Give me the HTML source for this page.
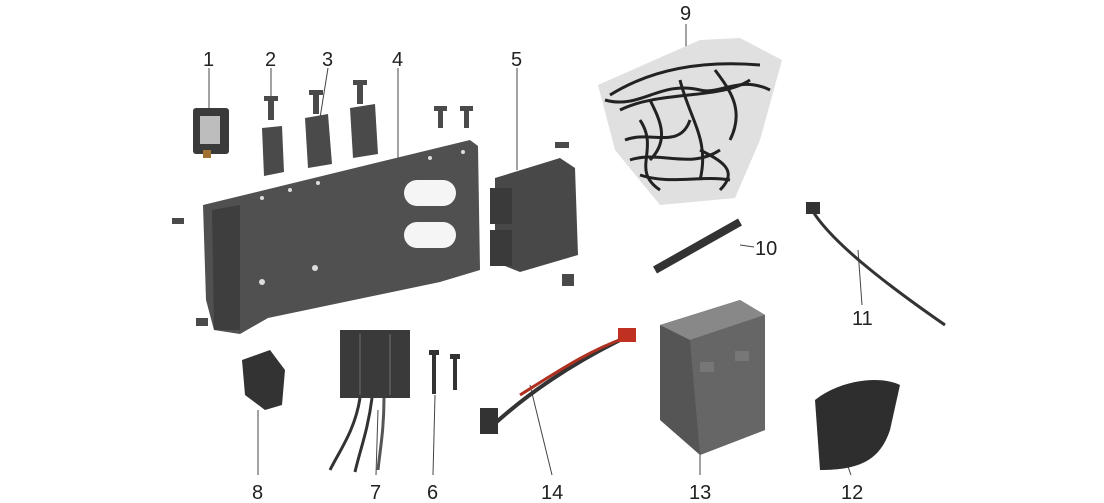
<!DOCTYPE html>
<html><head><meta charset="utf-8"><style>
html,body{margin:0;padding:0;background:#fff;}
svg{display:block;}
text{font-family:"Liberation Sans",sans-serif;font-size:20px;fill:#222;}
</style></head><body>
<svg width="1104" height="503" viewBox="0 0 1104 503" xmlns="http://www.w3.org/2000/svg">
<g stroke="#444" stroke-width="1" fill="none">
<line x1="209" y1="68" x2="209" y2="120"/>
<line x1="271" y1="68" x2="271" y2="98"/>
<line x1="328" y1="68" x2="320" y2="118"/>
<line x1="398" y1="68" x2="398" y2="160"/>
<line x1="517" y1="68" x2="517" y2="170"/>
<line x1="686" y1="24" x2="686" y2="95"/>
<line x1="740" y1="245" x2="754" y2="247"/>
<line x1="862" y1="305" x2="858" y2="250"/>
<line x1="851" y1="475" x2="842" y2="450"/>
<line x1="700" y1="475" x2="700" y2="440"/>
<line x1="552" y1="475" x2="530" y2="385"/>
<line x1="433" y1="475" x2="435" y2="395"/>
<line x1="376" y1="475" x2="378" y2="410"/>
<line x1="258" y1="475" x2="258" y2="410"/>
</g>
<!-- part 1 relay -->
<rect x="193" y="108" width="36" height="46" rx="3" fill="#3a3a3a"/>
<rect x="200" y="116" width="20" height="28" fill="#bdbdbd"/>
<rect x="203" y="150" width="8" height="8" fill="#a07030"/>
<!-- brackets -->
<g fill="#4a4a4a">
<rect x="268" y="98" width="6" height="22"/><rect x="264" y="96" width="14" height="5"/>
<path d="M262 128 L282 126 L284 172 L264 176 Z"/>
<rect x="313" y="92" width="6" height="22"/><rect x="309" y="90" width="14" height="5"/>
<path d="M305 118 L328 114 L332 164 L308 168 Z"/>
<rect x="357" y="82" width="6" height="22"/><rect x="353" y="80" width="14" height="5"/>
<path d="M350 108 L375 104 L378 154 L353 158 Z"/>
<rect x="438" y="108" width="5" height="20"/><rect x="434" y="106" width="13" height="5"/>
<rect x="464" y="108" width="5" height="20"/><rect x="460" y="106" width="13" height="5"/>
<rect x="172" y="218" width="12" height="6"/>
<rect x="196" y="318" width="12" height="8"/>
<rect x="555" y="142" width="14" height="6"/>
<rect x="562" y="274" width="12" height="12"/>
</g>
<!-- plate 4 -->
<path d="M203 205 L470 140 L478 146 L480 270 L440 282 L268 318 L240 334 L214 330 L206 300 Z" fill="#505050"/>
<path d="M212 210 L240 205 L240 330 L214 330 Z" fill="#3e3e3e"/>
<rect x="404" y="180" width="52" height="26" rx="13" fill="#f5f5f5"/>
<rect x="404" y="222" width="52" height="26" rx="13" fill="#f5f5f5"/>
<g fill="#ddd"><circle cx="262" cy="198" r="2"/><circle cx="290" cy="190" r="2"/><circle cx="318" cy="183" r="2"/><circle cx="430" cy="158" r="2"/><circle cx="463" cy="152" r="2"/><circle cx="262" cy="282" r="3"/><circle cx="315" cy="268" r="3"/></g>
<!-- part 5 ECU -->
<path d="M495 178 L560 158 L575 168 L578 255 L520 272 L495 262 Z" fill="#484848"/>
<rect x="490" y="188" width="22" height="36" fill="#3a3a3a"/>
<rect x="490" y="230" width="22" height="36" fill="#3a3a3a"/>
<!-- part 9 harness -->
<path d="M598 85 L700 40 L740 38 L782 60 L760 140 L735 198 L660 205 L615 150 Z" fill="#e0e0e0"/>
<g stroke="#222" stroke-width="3" fill="none">
<path d="M610 95 C650 70 700 60 760 65"/>
<path d="M620 110 C660 90 720 100 750 80"/>
<path d="M640 120 C660 150 630 170 660 190"/>
<path d="M680 80 C690 120 710 140 700 180"/>
<path d="M700 150 C720 160 740 170 720 190"/>
<path d="M625 140 C650 130 680 150 690 120"/>
<path d="M605 100 C640 110 660 80 700 90 C720 95 740 75 770 90"/>
<path d="M630 160 C660 150 690 170 720 150"/>
<path d="M650 100 C660 120 670 140 650 160"/>
<path d="M715 70 C730 90 745 110 730 140"/>
<path d="M640 175 C670 185 700 175 730 180"/>
</g>
<!-- 10 strap -->
<path d="M655 270 L740 222" stroke="#333" stroke-width="8"/>
<!-- 11 wire -->
<path d="M812 210 C830 240 880 280 945 325" stroke="#333" stroke-width="3" fill="none"/>
<rect x="806" y="202" width="14" height="12" fill="#333"/>
<!-- 13 battery -->
<path d="M660 325 L740 300 L765 315 L765 430 L700 455 L660 420 Z" fill="#555"/>
<path d="M660 325 L740 300 L765 315 L690 340 Z" fill="#888"/>
<path d="M690 340 L765 315 L765 430 L700 455 Z" fill="#666"/>
<rect x="700" y="362" width="14" height="10" fill="#777"/>
<rect x="735" y="351" width="14" height="10" fill="#777"/>
<!-- 12 boot -->
<path d="M815 400 C840 380 880 375 900 385 L890 430 C880 460 860 470 820 470 Z" fill="#2e2e2e"/>
<!-- 14 cable -->
<path d="M490 428 C520 400 560 370 620 340" stroke="#333" stroke-width="4" fill="none"/>
<path d="M520 395 C560 370 590 350 625 338" stroke="#b03020" stroke-width="3" fill="none"/>
<rect x="618" y="328" width="18" height="14" fill="#c03020"/>
<rect x="480" y="408" width="18" height="26" fill="#333"/>
<!-- 7 regulator -->
<rect x="340" y="330" width="70" height="68" fill="#3a3a3a"/>
<line x1="360" y1="334" x2="360" y2="395" stroke="#555" stroke-width="2"/>
<line x1="390" y1="334" x2="390" y2="395" stroke="#555" stroke-width="2"/>
<path d="M360 398 C355 430 340 450 330 470" stroke="#333" stroke-width="3" fill="none"/>
<path d="M372 398 C368 430 360 450 355 472" stroke="#333" stroke-width="3" fill="none"/>
<path d="M384 398 C384 430 380 450 378 470" stroke="#555" stroke-width="3" fill="none"/>
<!-- 6 bolts -->
<rect x="432" y="352" width="4" height="42" fill="#333"/><rect x="429" y="350" width="10" height="5" fill="#333"/>
<rect x="453" y="356" width="4" height="34" fill="#333"/><rect x="450" y="354" width="10" height="5" fill="#333"/>
<!-- 8 -->
<path d="M242 360 L270 350 L285 370 L282 405 L265 410 L245 395 Z" fill="#333"/>
<!-- labels -->
<text x="203" y="66">1</text>
<text x="265" y="66">2</text>
<text x="322" y="66">3</text>
<text x="392" y="66">4</text>
<text x="511" y="66">5</text>
<text x="680" y="20">9</text>
<text x="755" y="255">10</text>
<text x="852" y="325">11</text>
<text x="841" y="499">12</text>
<text x="689" y="499">13</text>
<text x="541" y="499">14</text>
<text x="427" y="499">6</text>
<text x="370" y="499">7</text>
<text x="252" y="499">8</text>
</svg>
</body></html>
